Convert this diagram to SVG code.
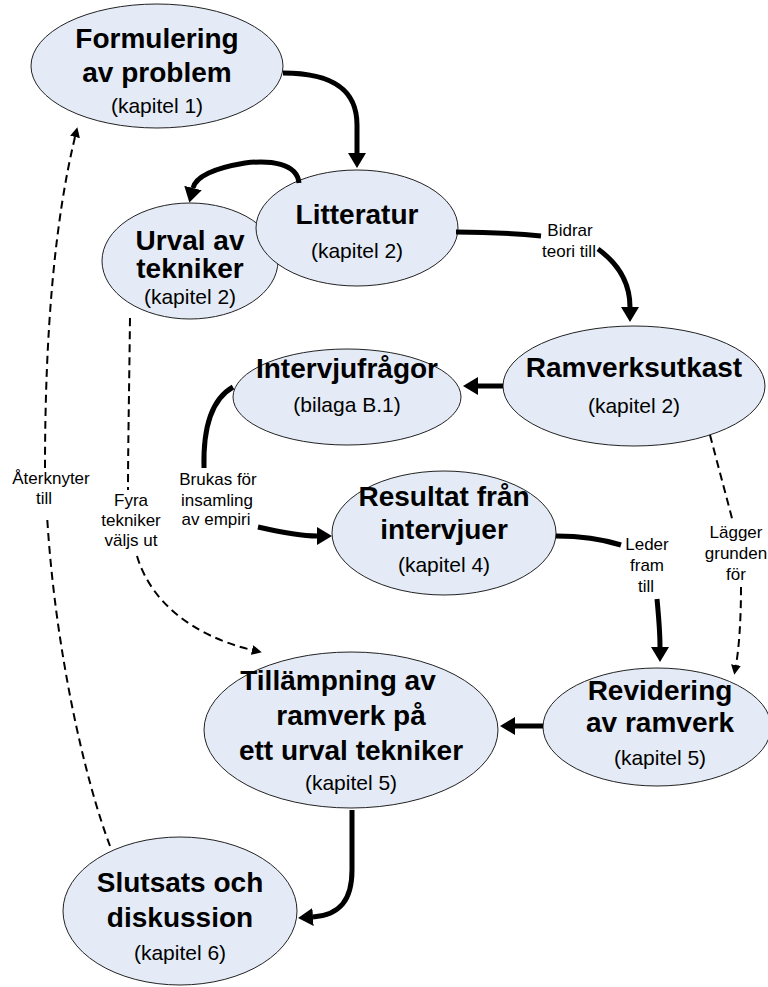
<svg xmlns="http://www.w3.org/2000/svg" width="768" height="987" viewBox="0 0 768 987">
<defs>
<style>
.node{fill:#e4ebf6;stroke:#222;stroke-width:1}
.t{font-family:"Liberation Sans",Arial,sans-serif;font-weight:bold;font-size:28px;fill:#000;text-anchor:middle}
.s{font-family:"Liberation Sans",Arial,sans-serif;font-size:21px;fill:#000;text-anchor:middle}
.l{font-family:"Liberation Sans",Arial,sans-serif;font-size:17px;fill:#000;text-anchor:middle}
.thick{fill:none;stroke:#000;stroke-width:5}
.dash{fill:none;stroke:#000;stroke-width:2;stroke-dasharray:8,5}
</style>
<marker id="ah" markerUnits="userSpaceOnUse" markerWidth="15" markerHeight="18" refX="0" refY="9" orient="auto"><path d="M0,0 L15,9 L0,18 z" fill="#000"/></marker>
<marker id="ad" markerUnits="userSpaceOnUse" markerWidth="10" markerHeight="10" refX="0" refY="5" orient="auto"><path d="M0,0 L10,5 L0,10 z" fill="#000"/></marker>
</defs>
<rect width="768" height="987" fill="#fff"/>

<g id="n-urval"><ellipse class="node" cx="190" cy="261" rx="88" ry="58"/>
<text class="t" x="190" y="250">Urval av</text><text class="t" x="190" y="278">tekniker</text><text class="s" x="190" y="304">(kapitel 2)</text></g>

<g id="n-litteratur"><ellipse class="node" cx="357" cy="228" rx="101" ry="58"/>
<text class="t" x="357" y="224">Litteratur</text><text class="s" x="357" y="258">(kapitel 2)</text></g>

<g id="n-formulering"><ellipse class="node" cx="157" cy="66" rx="126" ry="62"/>
<text class="t" x="157" y="48">Formulering</text><text class="t" x="157" y="82">av problem</text><text class="s" x="157" y="113">(kapitel 1)</text></g>

<g id="n-ramverksutkast"><ellipse class="node" cx="634" cy="386" rx="131" ry="60"/>
<text class="t" x="634" y="377">Ramverksutkast</text><text class="s" x="634" y="413">(kapitel 2)</text></g>

<g id="n-intervjufragor"><ellipse class="node" cx="347" cy="397" rx="114" ry="48"/>
<text class="t" x="347" y="378">Intervjufrågor</text><text class="s" x="347" y="412">(bilaga B.1)</text></g>

<g id="n-resultat"><ellipse class="node" cx="444" cy="533" rx="112" ry="62"/>
<text class="t" x="444" y="506">Resultat från</text><text class="t" x="444" y="539">intervjuer</text><text class="s" x="444" y="572">(kapitel 4)</text></g>

<g id="n-revidering"><ellipse class="node" cx="657" cy="727" rx="114" ry="59"/>
<text class="t" x="660" y="700">Revidering</text><text class="t" x="660" y="732">av ramverk</text><text class="s" x="660" y="765">(kapitel 5)</text></g>

<g id="n-tillampning"><ellipse class="node" cx="351" cy="730" rx="147" ry="78"/>
<text class="t" x="338" y="690">Tillämpning av</text><text class="t" x="351" y="725">ramverk på</text><text class="t" x="351" y="760">ett urval tekniker</text><text class="s" x="351" y="790">(kapitel 5)</text></g>

<g id="n-slutsats"><ellipse class="node" cx="180" cy="911" rx="117" ry="74"/>
<text class="t" x="180" y="892">Slutsats och</text><text class="t" x="180" y="927">diskussion</text><text class="s" x="180" y="960">(kapitel 6)</text></g>

<g id="connectors">
<path class="thick" d="M283,73 C340,73 357,95 357,125 L357,153" marker-end="url(#ah)"/>
<path class="thick" d="M299,183 C297,163 270,160 245,163 C215,168 196,176 193,188" marker-end="url(#ah)"/>
<path class="thick" d="M456,232 C490,232 520,234 541,236"/>
<path class="thick" d="M598,249 C620,265 630,285 630,307" marker-end="url(#ah)"/>
<path class="thick" d="M503,386 L478,386" marker-end="url(#ah)"/>
<path class="thick" d="M233,387 C210,400 203,430 204,468"/>
<path class="thick" d="M258,527 C280,532 300,536 317,536" marker-end="url(#ah)"/>
<path class="thick" d="M556,536 C585,536 605,540 621,545"/>
<path class="thick" d="M657,599 C659,620 660,635 660,647" marker-end="url(#ah)"/>
<path class="thick" d="M543,726 L515,726" marker-end="url(#ah)"/>
<path class="thick" d="M352,810 L352,870 C352,900 340,915 313,917" marker-end="url(#ah)"/>
<path class="dash" d="M710,435 L733,522"/>
<path class="dash" d="M741,587 C741,620 739,648 736,665" marker-end="url(#ad)"/>
<path class="dash" d="M110,846 C85,780 55,650 47,515"/>
<path class="dash" d="M45,468 C45,330 55,220 75,137" marker-end="url(#ad)"/>
<path class="dash" d="M130,318 C129,400 128,450 128,490"/>
<path class="dash" d="M137,556 C150,600 190,635 252,650" marker-end="url(#ad)"/>
<text class="l" x="570" y="236">Bidrar</text><text class="l" x="569" y="257">teori till</text>
<text class="l" x="218" y="485">Brukas för</text><text class="l" x="217" y="506">insamling</text><text class="l" x="216" y="525">av empiri</text>
<text class="l" x="647" y="550">Leder</text><text class="l" x="647" y="571">fram</text><text class="l" x="646" y="592">till</text>
<text class="l" x="736" y="538">Lägger</text><text class="l" x="736" y="559">grunden</text><text class="l" x="736" y="580">för</text>
<text class="l" x="51" y="484">Återknyter</text><text class="l" x="44" y="504">till</text>
<text class="l" x="131" y="506">Fyra</text><text class="l" x="131" y="526">tekniker</text><text class="l" x="131" y="546">väljs ut</text>
</g>
</svg>
